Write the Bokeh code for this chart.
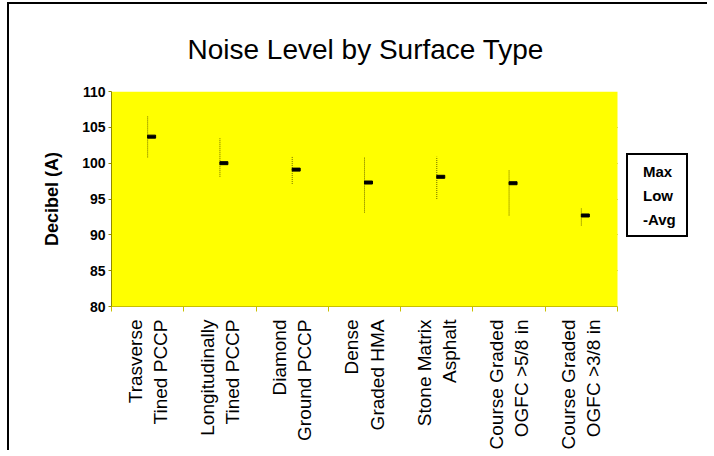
import numpy as np
from bokeh.plotting import figure
from bokeh.models import (ColumnDataSource, Range1d, LinearAxis, FixedTicker,
                          Legend, LegendItem, BoxAnnotation)
from bokeh.transform import dodge
from bokeh.embed import file_html
from bokeh.resources import INLINE

# ---- data ----
categories = ["Trasverse\nTined PCCP", "Longitudinally\nTined PCCP", "Diamond\nGround PCCP",
              "Dense\nGraded HMA", "Stone Matrix\nAsphalt", "Course Graded\nOGFC >5/8 in",
              "Course Graded\nOGFC >3/8 in"]
max_vals = [106.6, 103.5, 100.9, 100.9, 100.9, 99.0, 93.8]
low_vals = [100.8, 98.1, 97.1, 93.1, 95.0, 92.7, 91.3]
avg_vals = [103.7, 100.0, 99.1, 97.3, 98.1, 97.2, 92.7]
y_ticks = [80, 85, 90, 95, 100, 105, 110]

n = len(categories)
centers = [i + 0.5 for i in range(n)]          # category slot centres
bounds = list(range(n + 1))                     # category slot boundaries

src = ColumnDataSource(dict(x=centers, hi=max_vals, lo=low_vals, avg=avg_vals))

FONT = "Liberation Sans"

# layout (pixels)
W, H = 700, 448
BL, BT, BR = 102, 86, 12
FRAME_H = 220
BB = H - BT - FRAME_H
FRAME_W = W - BL - BR
DATA_W = 506                                    # pixel width of the yellow data area
x_end = n * FRAME_W / DATA_W

p = figure(width=W, height=H, output_backend="svg", toolbar_location=None,
           x_range=Range1d(0, x_end), y_range=Range1d(80, 110),
           x_axis_location=None, y_axis_location=None,
           min_border_left=BL, min_border_right=BR, min_border_top=BT, min_border_bottom=BB,
           title="Noise Level by Surface Type")
p.styles = {"border-left": "2px solid black", "border-top": "2px solid black",
            "margin-left": "7px", "margin-top": "2px"}

p.title.align = "left"
p.title.offset = 76
p.title.text_font = FONT
p.title.text_font_size = "28px"
p.title.text_font_style = "normal"
p.title.text_color = "black"
p.title.standoff = 54

p.background_fill_color = "white"
p.border_fill_color = "white"
p.outline_line_color = None

# yellow data area
p.add_layout(BoxAnnotation(left=0, right=n, bottom=80, top=110,
                           fill_color="#FFFF00", fill_alpha=1, line_color=None,
                           level="underlay"))

p.xgrid.grid_line_color = None
p.ygrid.grid_line_color = "#7d7800"
p.ygrid.grid_line_dash = "2 2"
p.ygrid.grid_line_width = 1
p.ygrid.ticker = FixedTicker(ticks=y_ticks)
p.ygrid.cross_bounds = (0, n)

# y axis
yax = LinearAxis(ticker=FixedTicker(ticks=y_ticks), axis_label="Decibel (A)")
yax.axis_line_color = "#8f8a00"
yax.major_tick_line_color = "#8f8a00"
yax.major_tick_in = 0
yax.major_tick_out = 3
yax.minor_tick_line_color = None
yax.major_label_text_font = FONT
yax.major_label_text_font_size = "14px"
yax.major_label_text_font_style = "bold"
yax.major_label_text_color = "black"
yax.major_label_standoff = 3
yax.axis_label_text_font = FONT
yax.axis_label_text_font_size = "18px"
yax.axis_label_text_font_style = "bold"
yax.axis_label_text_color = "black"
yax.axis_label_standoff = 17
p.add_layout(yax, "left")

# boundary ticks axis (no labels)
tax = LinearAxis(ticker=FixedTicker(ticks=bounds), bounds=(0, n))
tax.axis_line_color = "#c8c000"
tax.major_tick_line_color = "#c8c000"
tax.major_tick_in = 0
tax.major_tick_out = 5
tax.minor_tick_line_color = None
tax.major_label_overrides = {b: "" for b in bounds}
tax.major_label_text_font_size = "1px"
tax.major_label_standoff = 0
p.add_layout(tax, "below")

# category label axis
cax = LinearAxis(ticker=FixedTicker(ticks=centers))
cax.major_label_overrides = {c: lab for c, lab in zip(centers, categories)}
cax.axis_line_color = None
cax.major_tick_line_color = None
cax.minor_tick_line_color = None
cax.major_label_orientation = np.pi / 2
cax.major_label_text_font = FONT
cax.major_label_text_font_size = "19px"
cax.major_label_text_color = "black"
cax.major_label_standoff = 2
p.add_layout(cax, "below")

# high-low lines
hl = p.segment(x0="x", y0="lo", x1="x", y1="hi", source=src,
               line_color="#6e6a00", line_width=1, line_dash="1 1")
# average ticks
av = p.rect(x=dodge("x", 0.055), y="avg", width=8, height=3,
            width_units="screen", height_units="screen", source=src,
            fill_color="black", line_color="black")

legend = Legend(items=[LegendItem(label="Max", renderers=[hl]),
                       LegendItem(label="Low", renderers=[hl]),
                       LegendItem(label="-Avg", renderers=[hl])],
                location=(515, 69),
                glyph_width=0, glyph_height=18, label_height=18, label_width=36,
                label_standoff=8, padding=7, spacing=6,
                label_text_font=FONT, label_text_font_size="15px",
                label_text_font_style="bold", label_text_color="black",
                border_line_color="black", border_line_width=2, border_line_alpha=1,
                background_fill_color="white", background_fill_alpha=1)
p.add_layout(legend, "center")

open("out.html", "w").write(file_html(p, INLINE))
